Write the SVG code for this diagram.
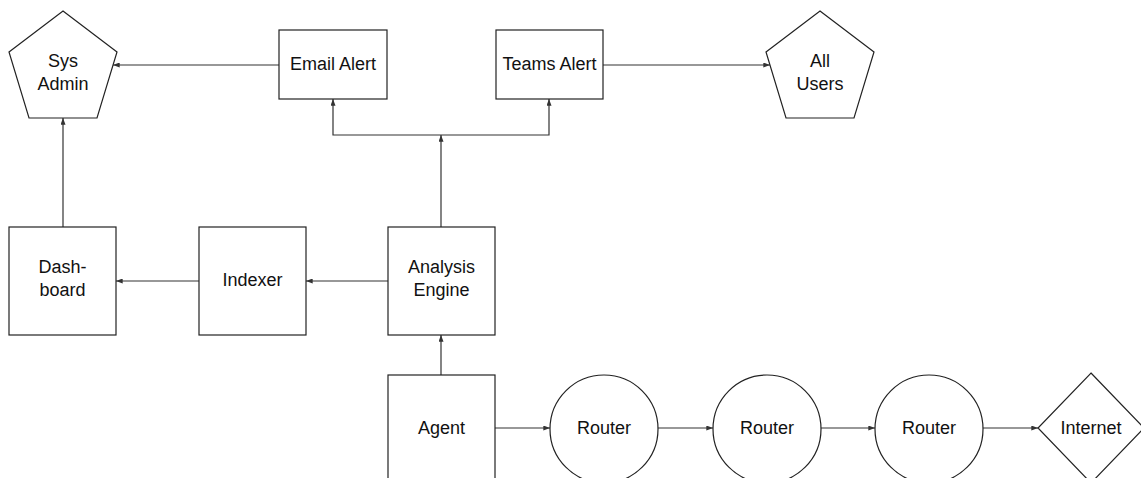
<svg xmlns="http://www.w3.org/2000/svg" width="1141" height="478" viewBox="0 0 1141 478">
  <style>
    .shape { fill: #ffffff; stroke: #222222; stroke-width: 1.2; }
    .label { font-family: "Liberation Sans", Arial, sans-serif; font-size: 18px; fill: #111111; text-anchor: middle; }
    .edge { fill: none; stroke: #333333; stroke-width: 1.2; }
    .head { marker-end: url(#arrow); }
  </style>
  <defs>
    <marker id="arrow" viewBox="0 0 8 6" refX="8" refY="3" markerWidth="7" markerHeight="5" markerUnits="userSpaceOnUse" orient="auto">
      <path d="M0,0 L8,3 L0,6 Z" fill="#333333"/>
    </marker>
  </defs>

  <rect width="1141" height="478" fill="#ffffff"/>

  <!-- connectors -->
  <g id="connectors">
    <path class="edge head" d="M279,65 L113,65"/>
    <path class="edge head" d="M603,65 L770,65"/>
    <path class="edge head" d="M63,227 L63,118"/>
    <path class="edge head" d="M388,281 L306,281"/>
    <path class="edge head" d="M199,281 L116,281"/>
    <path class="edge head" d="M441,227 L441,135"/>
    <path class="edge head" d="M441,135 L333,135 L333,99"/>
    <path class="edge head" d="M441,135 L549,135 L549,99"/>
    <path class="edge head" d="M441,375 L441,335"/>
    <path class="edge head" d="M495,428 L550,428"/>
    <path class="edge head" d="M658,428 L713,428"/>
    <path class="edge head" d="M821,428 L875,428"/>
    <path class="edge head" d="M983,428 L1038,428"/>
  </g>

  <!-- nodes -->
  <g id="sys-admin">
    <polygon class="shape" points="63,11 117,52 97,118 29,118 9,52"/>
    <text class="label" x="63" y="67">Sys</text>
    <text class="label" x="63" y="90">Admin</text>
  </g>
  <g id="email-alert">
    <rect class="shape" x="279" y="30" width="108" height="69"/>
    <text class="label" x="333" y="70">Email Alert</text>
  </g>
  <g id="teams-alert">
    <rect class="shape" x="496" y="30" width="107" height="69"/>
    <text class="label" x="549.5" y="70">Teams Alert</text>
  </g>
  <g id="all-users">
    <polygon class="shape" points="820,11 874,52 854,118 786,118 766,52"/>
    <text class="label" x="820" y="67">All</text>
    <text class="label" x="820" y="90">Users</text>
  </g>
  <g id="dashboard">
    <rect class="shape" x="9" y="227" width="107" height="108"/>
    <text class="label" x="62.5" y="273">Dash-</text>
    <text class="label" x="62.5" y="296">board</text>
  </g>
  <g id="indexer">
    <rect class="shape" x="199" y="227" width="107" height="108"/>
    <text class="label" x="252.5" y="286">Indexer</text>
  </g>
  <g id="analysis-engine">
    <rect class="shape" x="388" y="227" width="107" height="108"/>
    <text class="label" x="441.5" y="273">Analysis</text>
    <text class="label" x="441.5" y="296">Engine</text>
  </g>
  <g id="agent">
    <rect class="shape" x="388" y="375" width="107" height="120"/>
    <text class="label" x="441.5" y="434">Agent</text>
  </g>
  <g id="router-1">
    <circle class="shape" cx="604" cy="429" r="54"/>
    <text class="label" x="604" y="434">Router</text>
  </g>
  <g id="router-2">
    <circle class="shape" cx="767" cy="429" r="54"/>
    <text class="label" x="767" y="434">Router</text>
  </g>
  <g id="router-3">
    <circle class="shape" cx="929" cy="429" r="54"/>
    <text class="label" x="929" y="434">Router</text>
  </g>
  <g id="internet">
    <polygon class="shape" points="1091,373 1144,428 1091,483 1038,428"/>
    <text class="label" x="1091" y="434">Internet</text>
  </g>
</svg>
